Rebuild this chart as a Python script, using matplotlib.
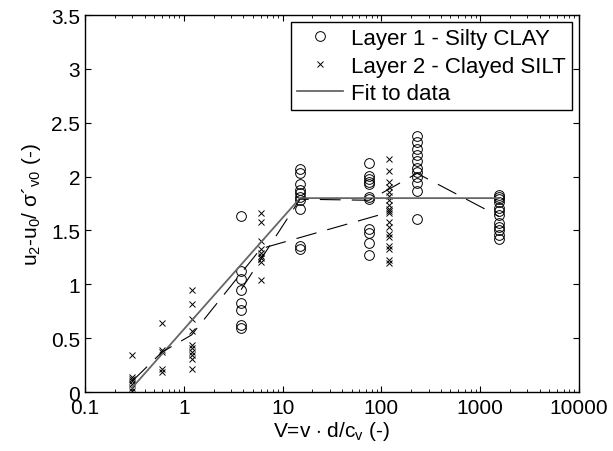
import matplotlib
matplotlib.use('Agg')
import matplotlib.pyplot as plt

plt.rcParams['font.family'] = ['Liberation Sans', 'DejaVu Sans']
plt.rcParams['mathtext.fontset'] = 'custom'
plt.rcParams['mathtext.rm'] = 'Liberation Sans'
plt.rcParams['mathtext.it'] = 'Liberation Sans'
plt.rcParams['lines.scale_dashes'] = False

# Layer 1 - Silty CLAY (circles)
layer1_v = [3.8] * 8 + [15] * 10 + [75] * 11 + [230] * 11 + [1550] * 12
layer1_u = [1.63, 1.12, 1.05, 0.95, 0.83, 0.76, 0.62, 0.59,
            2.07, 2.03, 1.93, 1.88, 1.85, 1.81, 1.78, 1.70, 1.36, 1.33,
            2.13, 2.01, 1.98, 1.95, 1.93, 1.81, 1.79, 1.51, 1.48, 1.38, 1.27,
            2.38, 2.32, 2.26, 2.20, 2.14, 2.08, 2.04, 2.00, 1.94, 1.87, 1.61,
            1.83, 1.81, 1.79, 1.76, 1.71, 1.68, 1.64, 1.57, 1.53, 1.50, 1.46, 1.42]

# Layer 2 - Clayed SILT (crosses)
layer2_v = [0.3] * 7 + [0.6] * 5 + [1.2] * 10 + [6] * 9 + [120] * 19
layer2_u = [0.34, 0.14, 0.12, 0.10, 0.07, 0.04, 0.01,
            0.64, 0.39, 0.37, 0.21, 0.19,
            0.95, 0.82, 0.68, 0.57, 0.44, 0.41, 0.37, 0.34, 0.31, 0.21,
            1.66, 1.58, 1.40, 1.33, 1.29, 1.26, 1.24, 1.21, 1.04,
            2.16, 2.05, 1.95, 1.90, 1.86, 1.82, 1.78, 1.74, 1.70, 1.68,
            1.66, 1.58, 1.53, 1.47, 1.44, 1.36, 1.33, 1.23, 1.20]

# mean trend lines (dashed)
mean1_v = [3.8, 15, 75, 230, 1550]
mean1_u = [0.95, 1.79, 1.78, 2.03, 1.63]
mean2_v = [0.3, 0.6, 1.2, 6, 120]
mean2_u = [0.10, 0.37, 0.53, 1.33, 1.67]

# fit to data (solid)
fit_v = [0.3, 15, 1550]
fit_u = [0.04, 1.8, 1.8]

fig = plt.figure(figsize=(6.13, 4.52), dpi=100)
ax = fig.add_axes([0.1387, 0.1305, 0.9445 - 0.1387, 0.9646 - 0.1305])

ax.plot(layer1_v, layer1_u, 'o', mfc='none', mec='black', ms=7, mew=0.7,
        label='Layer 1 - Silty CLAY')
ax.plot(layer2_v, layer2_u, 'x', color='black', ms=4.5, mew=0.7,
        label='Layer 2 - Clayed SILT')
ax.plot(fit_v, fit_u, '-', color='0.4', lw=1.3, label='Fit to data')
ax.plot(mean1_v, mean1_u, color='black', lw=0.8, dashes=(15, 8))
ax.plot(mean2_v, mean2_u, color='black', lw=0.8, dashes=(15, 8))

ax.set_xscale('log')
ax.set_xlim(0.1, 10000)
ax.set_ylim(0, 3.5)
ax.set_xticks([0.1, 1, 10, 100, 1000, 10000])
ax.set_xticklabels(['0.1', '1', '10', '100', '1000', '10000'])
ax.set_yticks([0, 0.5, 1, 1.5, 2, 2.5, 3, 3.5])
ax.set_yticklabels(['0', '0.5', '1', '1.5', '2', '2.5', '3', '3.5'])

ax.tick_params(which='both', direction='in', top=True, right=True, labelsize=15)
ax.tick_params(which='major', length=4, width=0.8)
ax.tick_params(which='minor', length=2.5, width=0.6)
ax.tick_params(axis='x', pad=4)
for sp in ax.spines.values():
    sp.set_linewidth(1.0)

ax.set_xlabel(r'V=v $\cdot$ d/c$_\mathregular{v}$ (-)', fontsize=15, labelpad=2)
ax.set_ylabel(r'u$_\mathregular{2}$-u$_\mathregular{0}$/ σ´$_\mathregular{v0}$ (-)',
              fontsize=15, labelpad=6)

leg = ax.legend(loc='upper right', fontsize=16, frameon=True, fancybox=False,
                edgecolor='black', framealpha=1, borderaxespad=0.33,
                handlelength=2.1, handletextpad=0.36, labelspacing=0.3,
                borderpad=0.25)
leg.get_frame().set_linewidth(1.0)

fig.savefig('out.png', dpi=100)
